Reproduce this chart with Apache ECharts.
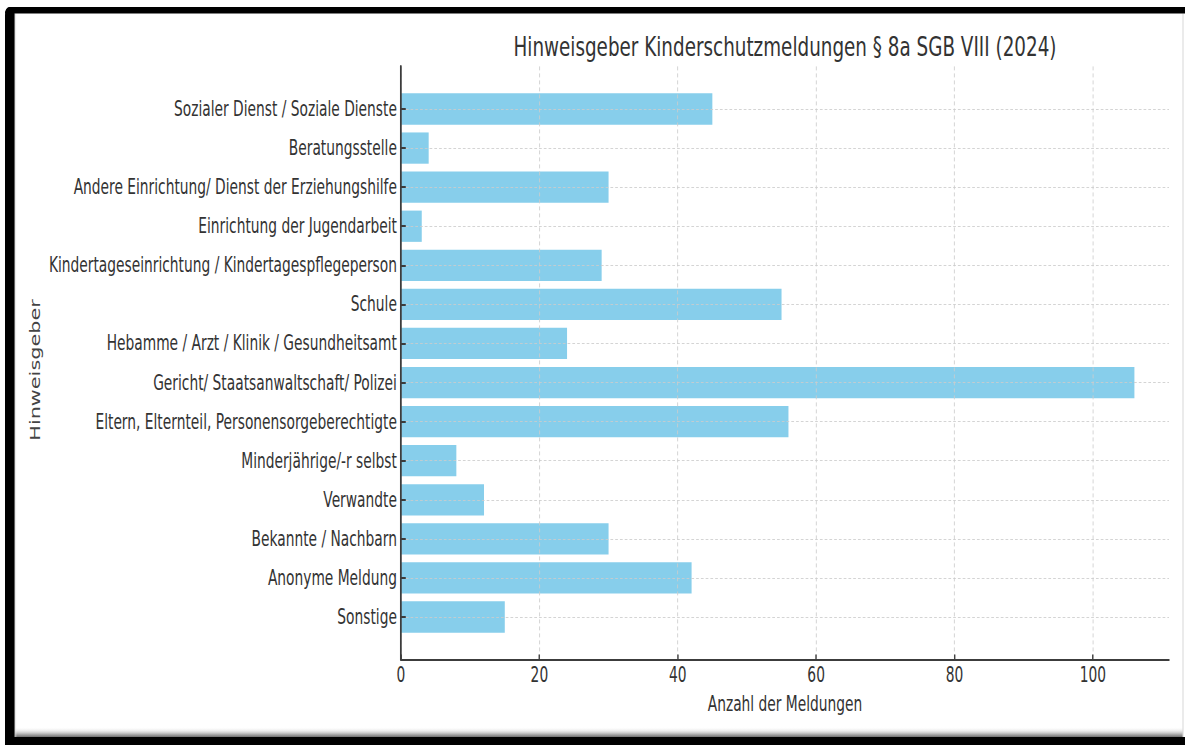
<!DOCTYPE html>
<html>
<head>
<meta charset="utf-8">
<script src="https://cdn.jsdelivr.net/npm/echarts@6/dist/echarts.min.js"></script>
<style>
  html, body { margin: 0; padding: 0; background: #fff; overflow: hidden; }
  #wrap { width: 1185px; height: 745px; overflow: hidden; position: relative; }
  #chart { position: absolute; left: 0; top: 0; height: 745px; transform-origin: 0 0; }
</style>
</head>
<body>
<div id="wrap"><div id="chart"></div></div>
<script>
// Hinweisgeber der Kinderschutzmeldungen nach § 8a SGB VIII, 2024
const categories = [
  'Sozialer Dienst / Soziale Dienste',
  'Beratungsstelle',
  'Andere Einrichtung/ Dienst der Erziehungshilfe',
  'Einrichtung der Jugendarbeit',
  'Kindertageseinrichtung / Kindertagespflegeperson',
  'Schule',
  'Hebamme / Arzt / Klinik / Gesundheitsamt',
  'Gericht/ Staatsanwaltschaft/ Polizei',
  'Eltern, Elternteil, Personensorgeberechtigte',
  'Minderjährige/-r selbst',
  'Verwandte',
  'Bekannte / Nachbarn',
  'Anonyme Meldung',
  'Sonstige'
];
const meldungen = [45, 4, 30, 3, 29, 55, 24, 106, 56, 8, 12, 30, 42, 15];
const xTicks = [0, 20, 40, 60, 80, 100];

const TITLE = 'Hinweisgeber Kinderschutzmeldungen § 8a SGB VIII (2024)';
const X_NAME = 'Anzahl der Meldungen';
const Y_NAME = 'Hinweisgeber';

// the drawing is laid out wide and compressed horizontally
const SX = 0.68;
const W = 1185 / SX;
const H = 745;
const X = px => px / SX;

const el = document.getElementById('chart');
el.style.width = W + 'px';
el.style.transform = 'scaleX(' + SX + ')';

const FONT = '"DejaVu Sans", sans-serif';
const BAR_H = 0.8;
const pad = 0.05 * (categories.length - 1 + BAR_H);
const yMin = -BAR_H / 2 - pad;
const yMax = categories.length - 1 + BAR_H / 2 + pad;
const idx = categories.map((_, i) => i);

const plotL = X(401), plotR = X(1169), plotT = 66.4, plotB = 659.6;

const chart = echarts.init(el, null, { renderer: 'svg', width: W, height: H });

// dashed grid, drawn over the bars
const gridLine = { show: true, lineStyle: { color: '#cccccc', width: 1, type: [4, 3] } };

chart.setOption({
  backgroundColor: '#ffffff',
  animation: false,
  grid: { left: plotL, right: W - plotR, top: plotT, bottom: H - plotB, containLabel: false },
  xAxis: {
    type: 'value', min: 0, max: 111, z: 3,
    name: X_NAME, nameLocation: 'middle', nameGap: 34,
    nameTextStyle: { color: '#333', fontSize: 20.3, fontFamily: FONT },
    axisLine: { show: true, onZero: false, lineStyle: { color: '#3c3c3c', width: 2 } },
    axisTick: { show: true, inside: true, length: 5, customValues: xTicks, lineStyle: { color: '#3c3c3c', width: 2 } },
    axisLabel: { customValues: xTicks, color: '#333', fontSize: 20.3, fontFamily: FONT, margin: 5 },
    splitLine: gridLine
  },
  yAxis: {
    type: 'value', inverse: true, min: yMin, max: yMax, z: 3,
    name: Y_NAME, nameLocation: 'middle', nameGap: plotL - X(38), nameRotate: 90,
    nameTextStyle: { color: '#444', fontSize: 20.8, fontFamily: FONT, verticalAlign: 'middle', padding: [0, 14, 0, 0] },
    axisLine: { show: true, onZero: false, lineStyle: { color: '#3c3c3c', width: 2.6 } },
    axisTick: { show: true, inside: true, length: 7, customValues: idx, lineStyle: { color: '#3c3c3c', width: 2 } },
    axisLabel: {
      customValues: idx, color: '#333', fontSize: 20.3, fontFamily: FONT, margin: 6,
      formatter: v => categories[Math.round(v)]
    },
    splitLine: gridLine
  },
  series: [{
    type: 'custom',
    z: 2,
    encode: { x: 0, y: 1 },
    data: meldungen.map((v, i) => [v, i]),
    renderItem: (params, api) => {
      const v = api.value(0), i = api.value(1);
      const p0 = api.coord([0, i]);
      const p1 = api.coord([v, i]);
      const h = api.size([0, BAR_H])[1];
      return {
        type: 'rect',
        shape: { x: p0[0], y: p0[1] - h / 2, width: p1[0] - p0[0], height: h },
        style: { fill: '#87CEEB' }
      };
    }
  }],
  graphic: [
    { type: 'text', x: (plotL + plotR) / 2, y: 47, z: 10,
      style: { text: TITLE, fill: '#333', font: '27px ' + FONT, textAlign: 'center', textVerticalAlign: 'middle' } },
    // frame around the figure
    { type: 'rect', z: 20, shape: { x: X(5), y: 7, width: W, height: 6.5, r: [8, 0, 0, 0] }, style: { fill: '#000' } },
    { type: 'rect', z: 20, shape: { x: X(5), y: 7, width: X(9.5), height: H, r: [8, 0, 0, 0] }, style: { fill: '#000' } },
    { type: 'rect', z: 20, shape: { x: X(5), y: 737, width: W, height: 10 }, style: { fill: '#000' } },
    { type: 'rect', z: 19, shape: { x: X(14), y: 727, width: X(1169), height: 10 },
      style: { fill: new echarts.graphic.LinearGradient(0, 0, 0, 1, [
        { offset: 0, color: 'rgba(255,255,255,0)' }, { offset: 0.6, color: 'rgba(200,200,200,1)' }, { offset: 1, color: 'rgba(110,110,110,1)' }]) } },
    { type: 'rect', z: 19, shape: { x: X(14), y: 13.5, width: X(3), height: 724 },
      style: { fill: new echarts.graphic.LinearGradient(0, 0, 1, 0, [
        { offset: 0, color: 'rgba(170,170,170,1)' }, { offset: 1, color: 'rgba(255,255,255,0)' }]) } },
    { type: 'rect', z: 19, shape: { x: X(1182.5), y: 13.5, width: X(1), height: 724 }, style: { fill: '#d8d8d8' } }
  ]
});
</script>
</body>
</html>
